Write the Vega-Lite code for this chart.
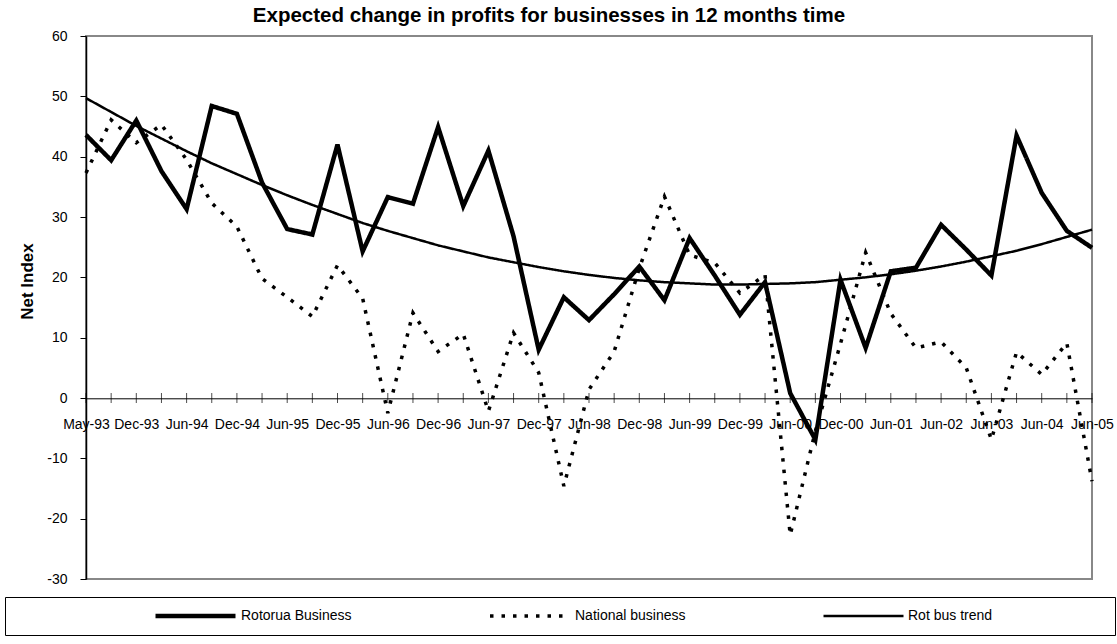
{
  "$schema": "https://vega.github.io/schema/vega-lite/v6.json",
  "width": 1006,
  "height": 543,
  "autosize": "none",
  "padding": {"left": 86, "top": 36, "right": 25, "bottom": 65},
  "background": "white",
  "title": {
    "text": "Expected change in profits for businesses in 12 months time",
    "font": "Liberation Sans",
    "fontSize": 20.5,
    "fontWeight": "bold",
    "color": "black",
    "anchor": "middle",
    "dx": -40,
    "offset": 3
  },
  "data": {
    "values": [
      {"period": "May-93", "Rotorua Business": 43.6, "National business": 37.3, "Rot bus trend": 49.7},
      {"period": "Sep-93", "Rotorua Business": 39.4, "National business": 46.1, "Rot bus trend": 47.4},
      {"period": "Dec-93", "Rotorua Business": 46.0, "National business": 42.3, "Rot bus trend": 45.1},
      {"period": "Mar-94", "Rotorua Business": 37.6, "National business": 45.3, "Rot bus trend": 43.0},
      {"period": "Jun-94", "Rotorua Business": 31.3, "National business": 39.5, "Rot bus trend": 40.9},
      {"period": "Sep-94", "Rotorua Business": 48.4, "National business": 32.3, "Rot bus trend": 38.9},
      {"period": "Dec-94", "Rotorua Business": 47.1, "National business": 28.4, "Rot bus trend": 37.1},
      {"period": "Mar-95", "Rotorua Business": 35.7, "National business": 19.8, "Rot bus trend": 35.3},
      {"period": "Jun-95", "Rotorua Business": 28.0, "National business": 16.7, "Rot bus trend": 33.6},
      {"period": "Sep-95", "Rotorua Business": 27.1, "National business": 13.5, "Rot bus trend": 32.0},
      {"period": "Dec-95", "Rotorua Business": 42.0, "National business": 22.0, "Rot bus trend": 30.5},
      {"period": "Mar-96", "Rotorua Business": 24.3, "National business": 16.5, "Rot bus trend": 29.0},
      {"period": "Jun-96", "Rotorua Business": 33.3, "National business": -2.5, "Rot bus trend": 27.7},
      {"period": "Sep-96", "Rotorua Business": 32.2, "National business": 14.1, "Rot bus trend": 26.5},
      {"period": "Dec-96", "Rotorua Business": 44.9, "National business": 7.7, "Rot bus trend": 25.3},
      {"period": "Mar-97", "Rotorua Business": 31.8, "National business": 10.6, "Rot bus trend": 24.3},
      {"period": "Jun-97", "Rotorua Business": 41.0, "National business": -2.2, "Rot bus trend": 23.3},
      {"period": "Sep-97", "Rotorua Business": 26.8, "National business": 10.8, "Rot bus trend": 22.5},
      {"period": "Dec-97", "Rotorua Business": 8.0, "National business": 4.2, "Rot bus trend": 21.7},
      {"period": "Mar-98", "Rotorua Business": 16.7, "National business": -14.6, "Rot bus trend": 21.0},
      {"period": "Jun-98", "Rotorua Business": 12.9, "National business": 1.4, "Rot bus trend": 20.4},
      {"period": "Sep-98", "Rotorua Business": 17.2, "National business": 7.7, "Rot bus trend": 19.9},
      {"period": "Dec-98", "Rotorua Business": 21.8, "National business": 21.5, "Rot bus trend": 19.5},
      {"period": "Mar-99", "Rotorua Business": 16.2, "National business": 33.4, "Rot bus trend": 19.2},
      {"period": "Jun-99", "Rotorua Business": 26.5, "National business": 23.7, "Rot bus trend": 19.0},
      {"period": "Sep-99", "Rotorua Business": 20.3, "National business": 22.4, "Rot bus trend": 18.8},
      {"period": "Dec-99", "Rotorua Business": 13.8, "National business": 17.4, "Rot bus trend": 18.8},
      {"period": "Mar-00", "Rotorua Business": 19.2, "National business": 20.4, "Rot bus trend": 18.9},
      {"period": "Jun-00", "Rotorua Business": 0.8, "National business": -22.7, "Rot bus trend": 19.0},
      {"period": "Sep-00", "Rotorua Business": -6.9, "National business": -5.5, "Rot bus trend": 19.2},
      {"period": "Dec-00", "Rotorua Business": 19.6, "National business": 9.0, "Rot bus trend": 19.6},
      {"period": "Mar-01", "Rotorua Business": 8.3, "National business": 24.1, "Rot bus trend": 20.0},
      {"period": "Jun-01", "Rotorua Business": 21.0, "National business": 14.0, "Rot bus trend": 20.5},
      {"period": "Dec-01", "Rotorua Business": 21.6, "National business": 8.3, "Rot bus trend": 21.1},
      {"period": "Jun-02", "Rotorua Business": 28.7, "National business": 9.3, "Rot bus trend": 21.8},
      {"period": "Dec-02", "Rotorua Business": 24.6, "National business": 5.0, "Rot bus trend": 22.6},
      {"period": "Jun-03", "Rotorua Business": 20.3, "National business": -6.9, "Rot bus trend": 23.5},
      {"period": "Dec-03", "Rotorua Business": 43.5, "National business": 7.6, "Rot bus trend": 24.4},
      {"period": "Jun-04", "Rotorua Business": 34.0, "National business": 3.9, "Rot bus trend": 25.5},
      {"period": "Dec-04", "Rotorua Business": 27.7, "National business": 9.1, "Rot bus trend": 26.7},
      {"period": "Jun-05", "Rotorua Business": 24.9, "National business": -13.8, "Rot bus trend": 27.9}
    ]
  },
  "layer": [
    {
      "mark": {"type": "tick", "orient": "vertical", "size": 10, "thickness": 1, "color": "black"},
      "encoding": {
        "x": {"field": "period", "type": "ordinal", "sort": null},
        "y": {"datum": 0, "type": "quantitative"}
      }
    },
    {
      "transform": [
        {"fold": ["Rotorua Business", "National business", "Rot bus trend"], "as": ["series", "value"]}
      ],
      "mark": {"type": "line", "color": "black", "strokeCap": "butt", "strokeJoin": "miter"},
      "encoding": {
        "x": {"field": "period", "type": "ordinal", "sort": null},
        "y": {"field": "value", "type": "quantitative"},
        "strokeDash": {
          "field": "series",
          "type": "nominal",
          "title": " ",
          "scale": {"domain": ["Rotorua Business", "National business", "Rot bus trend"], "range": [[1, 0], [3.5, 8], [1, 0]]}
        },
        "strokeWidth": {
          "field": "series",
          "type": "nominal",
          "title": " ",
          "scale": {"domain": ["Rotorua Business", "National business", "Rot bus trend"], "range": [4.5, 2.5, 1]}
        }
      }
    }
  ],
  "encoding": {
    "x": {
      "field": "period",
      "type": "ordinal",
      "sort": null,
      "scale": {"type": "point", "padding": 0},
      "axis": {
        "title": null,
        "offset": -180.7,
        "ticks": false,
        "domainColor": "black",
        "domainWidth": 1,
        "labelAngle": 0,
        "labelPadding": 19,
        "values": ["May-93", "Dec-93", "Jun-94", "Dec-94", "Jun-95", "Dec-95", "Jun-96", "Dec-96", "Jun-97", "Dec-97", "Jun-98", "Dec-98", "Jun-99", "Dec-99", "Jun-00", "Dec-00", "Jun-01", "Jun-02", "Jun-03", "Jun-04", "Jun-05"]
      }
    },
    "y": {
      "type": "quantitative",
      "scale": {"domain": [-30, 60], "nice": false},
      "axis": {
        "title": "Net Index",
        "values": [-30, -20, -10, 0, 10, 20, 30, 40, 50, 60],
        "labelExpr": "datum.value + ''",
        "grid": false,
        "tickSize": 6,
        "tickColor": "black",
        "domainColor": "black",
        "domainWidth": 1.5,
        "labelPadding": 13,
        "titlePadding": 10,
        "titleY": 245,
        "titleFontWeight": "bold",
        "titleFontSize": 17
      }
    }
  },
  "config": {
    "font": "Liberation Sans",
    "view": {"stroke": "#888888", "strokeWidth": 2},
    "axis": {
      "labelFont": "Liberation Sans",
      "labelFontSize": 14,
      "labelColor": "black",
      "titleFont": "Liberation Sans",
      "titleColor": "black",
      "labelOverlap": false,
      "labelFlush": false
    },
    "legend": {
      "orient": "none",
      "legendX": -81,
      "legendY": 561,
      "direction": "horizontal",
      "strokeColor": "black",
      "strokeWidth": 1,
      "padding": 12,
      "clipHeight": 14,
      "symbolType": "stroke",
      "symbolSize": 6400,
      "symbolStrokeColor": "black",
      "symbolOffset": 136,
      "labelOffset": 3,
      "columnPadding": 0,
      "labelFont": "Liberation Sans",
      "labelFontSize": 14,
      "labelColor": "black",
      "titleOrient": "right",
      "titlePadding": 111
    }
  }
}
